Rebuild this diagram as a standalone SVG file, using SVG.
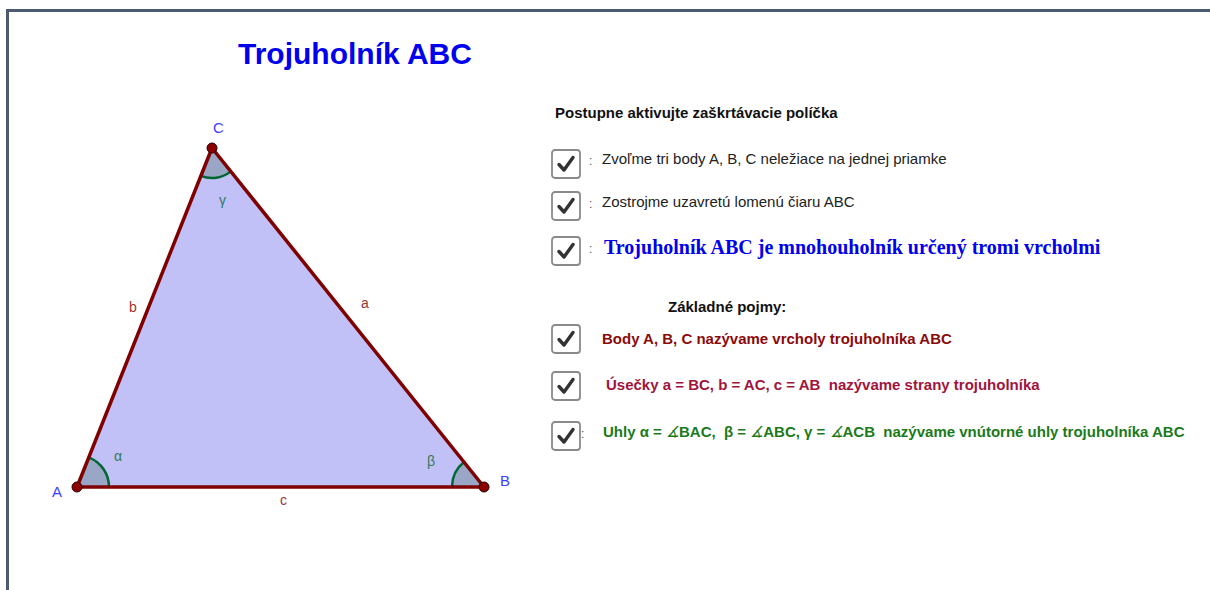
<svg xmlns="http://www.w3.org/2000/svg" width="1210" height="590" viewBox="0 0 1210 590">
<style>
.frame{fill:none;stroke:#4d5b70;stroke-width:3}
.tri{fill:#c1c1f8;stroke:none}
.edge{stroke:#800000;stroke-width:3.5;stroke-linecap:round}
.sector{fill:#99a6c6;stroke:none}
.arc{fill:none;stroke:#006633;stroke-width:2.5}
.pt{fill:#8b0000;stroke:#2a0000;stroke-width:1}
.vlab{font-family:"Liberation Sans",Arial,sans-serif;font-size:15px;fill:#4040ff}
.slab{font-family:"Liberation Sans",Arial,sans-serif;font-size:14px;fill:#993333}
.alab{font-family:"Liberation Sans",Arial,sans-serif;font-size:14px;fill:#2f7a60}
.cb{fill:#fff;stroke:#8a8a8a;stroke-width:1.8}
.ck{fill:none;stroke:#333;stroke-width:3.4;stroke-linecap:round;stroke-linejoin:round}
.sans{font-family:"Liberation Sans",Arial,sans-serif;font-size:15px}
.b{font-weight:bold}
.colon{font-family:"Liberation Sans",Arial,sans-serif;font-size:12px;fill:#555}
</style>
<defs>
<g id="box"><rect class="cb" x="0" y="0" width="28" height="28" rx="3"/><path class="ck" d="M7,14.5 L12,20 L21,7.5"/></g>
</defs>
<rect width="1210" height="590" fill="#fff"/>
<path class="frame" d="M7.5,590 L7.5,10.5 L1210,10.5"/>

<text x="238" y="64" font-family="Liberation Sans,Arial,sans-serif" font-size="30" font-weight="bold" fill="#0000ee">Trojuholník ABC</text>

<g id="triangle">
<polygon class="tri" points="77,487 484,487 212,148"/>
</g>
<g id="angles">
<path class="sector" d="M77,487 L109,487 A32,32 0 0 0 88.8,457.3 Z"/>
<path class="arc" d="M109,487 A32,32 0 0 0 88.8,457.3"/>
<path class="sector" d="M484,487 L452,487 A32,32 0 0 1 464,462 Z"/>
<path class="arc" d="M452,487 A32,32 0 0 1 464,462"/>
<path class="sector" d="M212,148 L200.9,175.9 A30,30 0 0 0 230.8,171.4 Z"/>
<path class="arc" d="M200.9,175.9 A30,30 0 0 0 230.8,171.4"/>
</g>
<g id="connectors">
<line class="edge" x1="77" y1="487" x2="484" y2="487"/>
<line class="edge" x1="484" y1="487" x2="212" y2="148"/>
<line class="edge" x1="212" y1="148" x2="77" y2="487"/>
</g>
<g id="A"><circle class="pt" cx="77" cy="487" r="5"/><text class="vlab" x="52" y="497">A</text></g>
<g id="B"><circle class="pt" cx="484" cy="487" r="5"/><text class="vlab" x="500" y="486">B</text></g>
<g id="C"><circle class="pt" cx="212" cy="148" r="5"/><text class="vlab" x="213" y="133">C</text></g>
<text class="slab" x="361" y="308">a</text>
<text class="slab" x="129" y="312">b</text>
<text class="slab" x="280" y="505">c</text>
<text class="alab" x="114" y="461">α</text>
<text class="alab" x="427" y="466">β</text>
<text class="alab" x="219" y="205">γ</text>

<g id="panel">
<text class="sans b" x="555" y="118" fill="#111">Postupne aktivujte zaškrtávacie políčka</text>
<g id="cb1"><use href="#box" x="552" y="150"/><text class="colon" x="589" y="165">:</text><text class="sans" x="602" y="164" fill="#222">Zvoľme tri body A, B, C neležiace na jednej priamke</text></g>
<g id="cb2"><use href="#box" x="552" y="192"/><text class="colon" x="589" y="208">:</text><text class="sans" x="602" y="207" fill="#222">Zostrojme uzavretú lomenú čiaru ABC</text></g>
<g id="cb3"><use href="#box" x="552" y="237"/><text class="colon" x="589" y="253">:</text><text x="604" y="254" font-family="Liberation Serif,Times New Roman,serif" font-size="20" font-weight="bold" fill="#0000ee">Trojuholník ABC je mnohouholník určený tromi vrcholmi</text></g>
<text class="sans b" x="668" y="312" fill="#111">Základné pojmy:</text>
<g id="cb4"><use href="#box" x="552" y="325"/><text class="sans b" x="602" y="344" fill="#8b0a0a">Body A, B, C nazývame vrcholy trojuholníka ABC</text></g>
<g id="cb5"><use href="#box" x="552" y="372"/><text class="sans b" x="606" y="390" fill="#a0143c" xml:space="preserve">Úsečky a = BC, b = AC, c = AB  nazývame strany trojuholníka</text></g>
<g id="cb6"><use href="#box" x="552" y="422"/><text class="colon" x="581" y="438">:</text><text class="sans b" x="603" y="437" fill="#1a7a1a" xml:space="preserve">Uhly α = <tspan font-style="italic" font-weight="normal">∡</tspan>BAC,  β = <tspan font-style="italic" font-weight="normal">∡</tspan>ABC, γ = <tspan font-style="italic" font-weight="normal">∡</tspan>ACB  nazývame vnútorné uhly trojuholníka ABC</text></g>
</g>
</svg>
